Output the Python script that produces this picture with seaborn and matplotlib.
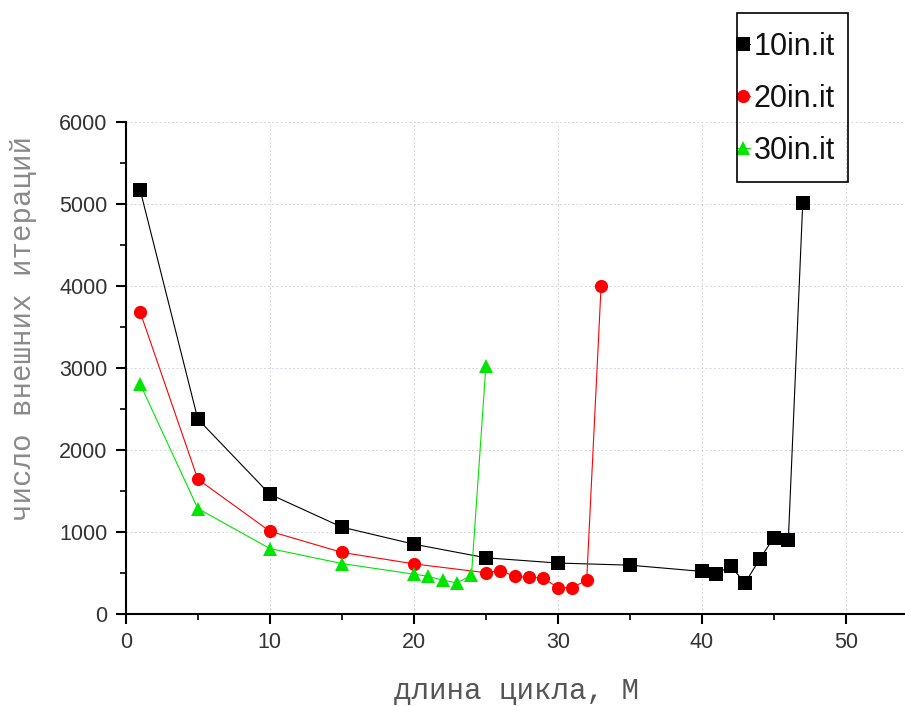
import matplotlib
matplotlib.use("Agg")
import matplotlib.pyplot as plt
from matplotlib.patches import Rectangle
from matplotlib.ticker import MultipleLocator
import seaborn as sns

# Cycle length (x) and number of outer iterations (y) for each inner-iteration count
x_10 = [1, 5, 10, 15, 20, 25, 30, 35, 40, 41, 42, 43, 44, 45, 46, 47]
y_10 = [5170, 2380, 1463, 1062, 854, 688, 624, 598, 522, 494, 584, 382, 669, 935, 905, 5012]

x_20 = [1, 5, 10, 15, 20, 25, 26, 27, 28, 29, 30, 31, 32, 33]
y_20 = [3683, 1646, 1012, 754, 614, 506, 530, 463, 448, 443, 322, 325, 415, 4002]

x_30 = [1, 5, 10, 15, 20, 21, 22, 23, 24, 25]
y_30 = [2805, 1289, 801, 618, 488, 463, 415, 382, 476, 3024]

labels = ["10in.it", "20in.it", "30in.it"]
colors = ["#000000", "#ff0000", "#00e600"]
markers = ["s", "o", "^"]

sns.set_style("ticks")
plt.rcParams["font.family"] = ["Liberation Sans", "DejaVu Sans"]

W, H = 905, 706
fig = plt.figure(figsize=(W / 100, H / 100), dpi=100)
ax = fig.add_axes([0.139, 0.130, 0.861, 0.697])

for xs, ys, lab, col, mk in zip([x_10, x_20, x_30], [y_10, y_20, y_30], labels, colors, markers):
    sns.lineplot(x=xs, y=ys, ax=ax, color=col, marker=mk, markersize=9.5 if mk != "^" else 10.5,
                 markeredgewidth=0, linewidth=0.8, label=lab, sort=False)

ax.set_xlim(0, 54.1)
ax.set_ylim(0, 6000)
ax.xaxis.set_major_locator(MultipleLocator(10))
ax.xaxis.set_minor_locator(MultipleLocator(5))
ax.yaxis.set_major_locator(MultipleLocator(1000))
ax.yaxis.set_minor_locator(MultipleLocator(500))
ax.tick_params(which="major", direction="out", length=7, width=1.5, labelsize=15.5,
               labelcolor="#333333", color="black")
ax.tick_params(axis="x", which="major", pad=6)
ax.tick_params(axis="y", which="major", pad=6)
ax.tick_params(which="minor", direction="out", length=4, width=1.2, color="black")
for s in ["top", "right"]:
    ax.spines[s].set_visible(False)
for s in ["left", "bottom"]:
    ax.spines[s].set_linewidth(1.5)
    ax.spines[s].set_color("black")

ax.grid(True, which="major", linestyle=(0, (2, 3)), linewidth=0.6, color="#c8c8d8")
ax.set_axisbelow(True)

mono = ["Liberation Mono", "DejaVu Sans Mono"]
ax.set_xlabel("длина цикла, М", fontsize=21, color="#555555", family=mono)
ax.set_ylabel("число внешних итераций", fontsize=21, color="#8a8a8a", family=mono)
ax.xaxis.set_label_coords(0.502, -0.128)
ax.yaxis.set_label_coords(-0.114, 0.581)

# Legend entries sit in a framed box above the right part of the plot
leg = ax.legend(loc="upper left", bbox_to_anchor=(736 / W, 1 - 32 / H), bbox_transform=fig.transFigure,
                frameon=False, fontsize=22, handlelength=0.45, handletextpad=0.12,
                borderpad=0, labelspacing=0.72, borderaxespad=0)
for t in leg.get_texts():
    t.set_color("#111111")
fig.add_artist(Rectangle((737 / W, 1 - 182 / H), 111 / W, 169 / H, transform=fig.transFigure,
                         fill=False, edgecolor="black", linewidth=1.2))

fig.savefig("out.png", dpi=100)
